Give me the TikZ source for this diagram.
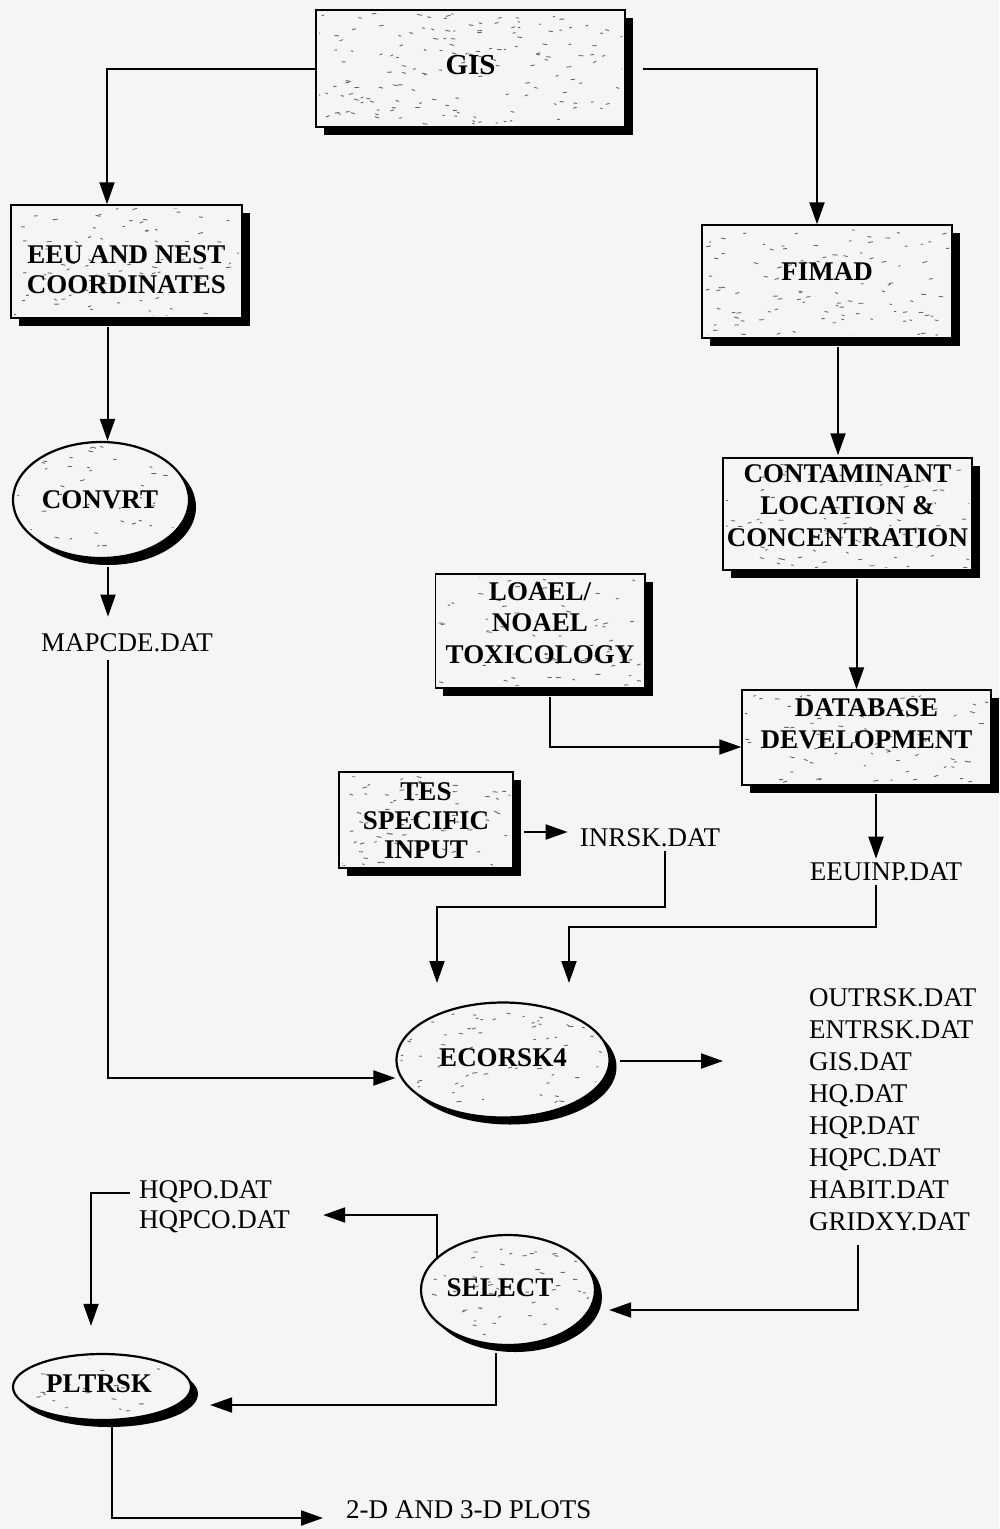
\documentclass[tikz,border=0pt]{standalone}
\usepackage{fontspec}
\setmainfont{Liberation Serif}
\usetikzlibrary{shapes.geometric,arrows.meta,calc,shadows}
\definecolor{bgc}{RGB}{245,245,245}
\newcommand\rspecks[5]{%
  \begin{scope}
  \clip ({#1-#3/2+3},{#2-#4/2+3}) rectangle ({#1+#3/2-3},{#2+#4/2-3});
  \foreach \k in {1,...,#5}{%
    \pgfmathsetmacro\su{#1+(rnd-0.5)*#3}%
    \pgfmathsetmacro\sv{#2+(rnd-0.5)*#4}%
    \pgfmathsetmacro\sd{1.5+rnd*3}%
    \pgfmathsetmacro\se{rand*1.2}%
    \draw[speck] (\su,\sv) -- ++(\sd,\se);}
  \end{scope}}
\newcommand\especks[5]{%
  \begin{scope}
  \clip (#1,#2) ellipse ({#3-4} and {#4-4});
  \foreach \k in {1,...,#5}{%
    \pgfmathsetmacro\su{#1+rand*#3}%
    \pgfmathsetmacro\sv{#2+rand*#4}%
    \pgfmathsetmacro\sd{1.5+rnd*3}%
    \pgfmathsetmacro\se{rand*1.2}%
    \draw[speck] (\su,\sv) -- ++(\sd,\se);}
  \end{scope}}
\begin{document}
\begin{tikzpicture}[x=1pt,y=-1pt,
  box/.style={draw=black, line width=1.5pt, fill=bgc, rectangle, inner sep=0pt,
    general shadow={fill=black, shadow xshift=8pt, shadow yshift=-8pt}},
  btext/.style={inner sep=0pt, align=center, font=\bfseries\fontsize{27}{32}\selectfont},
  oval/.style={draw=black, line width=2.2pt, ellipse, fill=bgc, inner sep=0pt,
    general shadow={fill=black, shadow xshift=7pt, shadow yshift=-7pt}},
  lab/.style={inner sep=0pt, font=\fontsize{27}{32}\selectfont, align=left},
  speck/.style={line width=0.9pt, black!60, line cap=round},
  arr/.style={line width=2pt, -{Triangle[length=22pt,width=15pt]}}]
\fill[bgc] (0,0) rectangle (999,1529);
\useasboundingbox (0,0) rectangle (999,1529);
\pgfmathsetseed{7}

% boxes
\node[box, minimum width=309pt, minimum height=117pt] (gis) at (470.5,68.5) {};
\node[box, minimum width=231pt, minimum height=113pt] (eeu) at (126.5,261.5) {};
\node[box, minimum width=250pt, minimum height=113pt] (fimad) at (827,281.5) {};
\node[box, minimum width=249pt, minimum height=112pt] (contam) at (847.5,514) {};
\node[box, minimum width=209.5pt, minimum height=114pt] (loael) at (540,631) {};
\node[box, minimum width=249pt, minimum height=95pt] (db) at (866.5,737.5) {};
\node[box, minimum width=174pt, minimum height=96pt] (tes) at (426,820) {};
% ellipses
\node[oval, minimum width=176pt, minimum height=116pt] (convrt) at (101,500) {};
\node[oval, minimum width=213pt, minimum height=115pt] (ecorsk) at (503,1060) {};
\node[oval, minimum width=174pt, minimum height=110pt] (select) at (508,1290) {};
\node[oval, minimum width=178pt, minimum height=66pt] (pltrsk) at (102,1387) {};

% speckle texture
\rspecks{470.5}{68.5}{309}{117}{160}
\rspecks{126.5}{261.5}{231}{113}{90}
\rspecks{827}{281.5}{250}{113}{110}
\rspecks{847.5}{514}{249}{112}{80}
\rspecks{540}{631}{209.5}{114}{80}
\rspecks{866.5}{737.5}{249}{95}{80}
\rspecks{426}{820}{174}{96}{70}
\especks{101}{500}{88}{58}{50}
\especks{503}{1060}{106.5}{57.5}{90}
\especks{508}{1290}{87}{55}{70}
\especks{102}{1387}{89}{33}{30}

% box labels
\node[btext, font=\bfseries\fontsize{29}{32}\selectfont] (gis-t) at (470.5,65) {GIS};
\node[btext, font=\bfseries\fontsize{27}{30}\selectfont] (eeu-t) at (126.5,270) {EEU AND NEST\\COORDINATES};
\node[btext] (fimad-t) at (827,272) {FIMAD};
\node[btext] (contam-t) at (847.5,506) {CONTAMINANT\\LOCATION \&\\CONCENTRATION};
\node[btext, font=\bfseries\fontsize{27}{31.5}\selectfont] (loael-t) at (540,623) {LOAEL/\\NOAEL\\TOXICOLOGY};
\node[btext] (db-t) at (866.5,724) {DATABASE\\DEVELOPMENT};
\node[btext, font=\bfseries\fontsize{27}{29}\selectfont] (tes-t) at (426,821) {TES\\SPECIFIC\\INPUT};
\node[btext] (convrt-t) at (100,500) {CONVRT};
\node[btext] (ecorsk-t) at (503,1058) {ECORSK4};
\node[btext] (select-t) at (500,1288) {SELECT};
\node[btext] (pltrsk-t) at (99,1384) {PLTRSK};

% file labels
\node[lab] (mapcde) at (127,643) {MAPCDE.DAT};
\node[lab] (inrsk) at (650,838) {INRSK.DAT};
\node[lab] (eeuinp) at (886,872) {EEUINP.DAT};
\node[lab, anchor=west] (outs) at (809,1110) {OUTRSK.DAT\\ENTRSK.DAT\\GIS.DAT\\HQ.DAT\\HQP.DAT\\HQPC.DAT\\HABIT.DAT\\GRIDXY.DAT};
\node[lab, anchor=west, font=\fontsize{27}{30}\selectfont] (hqpo) at (139,1207) {HQPO.DAT\\HQPCO.DAT};
\node[lab, anchor=west] (plots) at (346,1510) {2-D AND 3-D PLOTS};

\coordinate (inA) at (437,983);
\coordinate (inB) at (569,983);

% connectors
\draw[arr] (gis.west) -| ($(eeu.north)+(-19.5,0)$);
\draw[arr] ($(gis.east)+(17,0)$) -| ($(fimad.north)+(-10,0)$);
\draw[arr] ($(eeu.south)+(-19,8)$) -- ($(convrt.north)+(6.5,0)$);
\draw[arr] ($(convrt.south)+(7,8)$) -- ($(mapcde.north)+(-19,-17)$);
\draw[arr] ($(mapcde.south)+(-19,8)$) |- ($(ecorsk.west)+(0,18)$);
\draw[arr] ($(fimad.south)+(11,8)$) -- ($(contam.north)+(-9.5,-2)$);
\draw[arr] ($(contam.south)+(9,8)$) -- ($(db.north)+(-10,0)$);
\draw[arr] ($(loael.south)+(10,8)$) |- ($(db.west)+(0,9.5)$);
\draw[arr] ($(db.south)+(9.5,8)$) -- ($(eeuinp.north)+(-10,-4)$);
\draw[arr] ($(tes.east)+(10,12)$) -- ($(inrsk.west)+(-12,-6)$);
\draw[arr] ($(inrsk.south)+(15,4)$) |- ($(inA)+(0,-76)$) -- (inA);
\draw[arr] ($(eeuinp.south)+(-10,4)$) |- ($(inB)+(0,-56)$) -- (inB);
\draw[arr] ($(ecorsk.east)+(9,1)$) -- ($(outs.west)+(-86,-49)$);
\draw[arr] ($(outs.south west)+(49,14)$) |- ($(select.east)+(13,20)$);
\draw[arr] ($(select.north)+(-71,23)$) |- ($(hqpo.east)+(33,8)$);
\draw[arr] ($(hqpo.west)+(-9,-14)$) -| ($(pltrsk.north)+(-11,-27)$);
\draw[arr] ($(select.south)+(-12,7)$) |- ($(pltrsk.east)+(18,18)$);
\draw[arr] ($(pltrsk.south)+(10,6)$) |- ($(plots.west)+(-23,8)$);
\end{tikzpicture}
\end{document}
